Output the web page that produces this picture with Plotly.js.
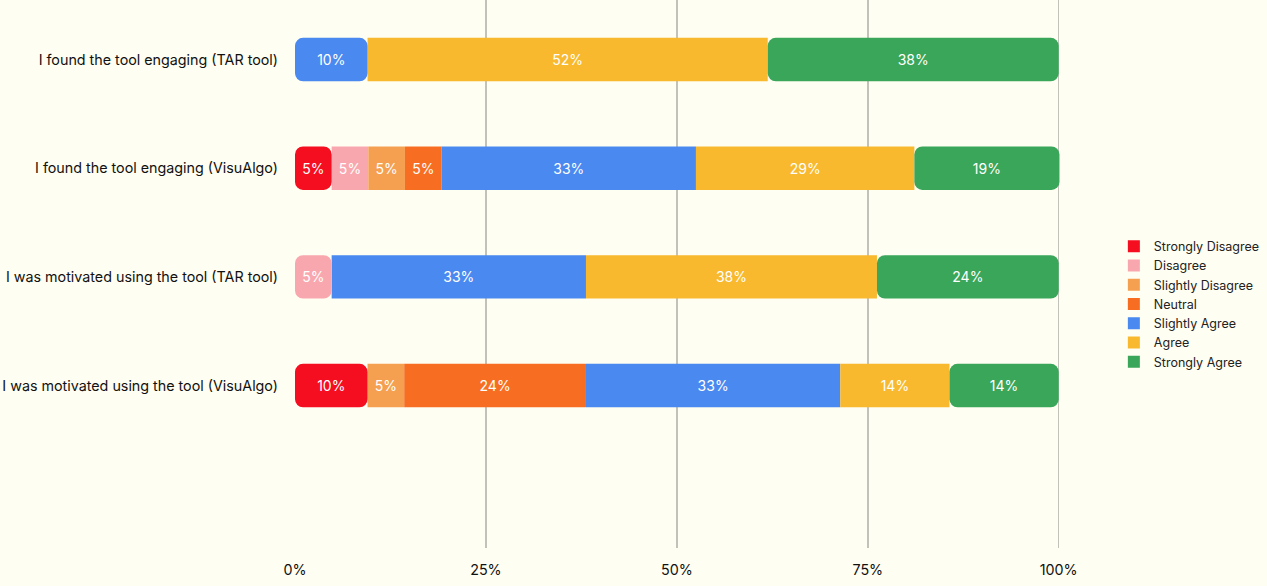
<!DOCTYPE html>
<html>
<head>
<meta charset="utf-8">
<script src="https://cdn.plot.ly/plotly-3.0.1.min.js"></script>
<style>
  html, body { margin: 0; padding: 0; background: #fffef2; }
  #chart { width: 1267px; height: 586px; }
</style>
</head>
<body>
<div id="chart"></div>
<script>
// ---- data (percent of respondents) ----
const questions = [
  "I found the tool engaging (TAR tool)",
  "I found the tool engaging (VisuAlgo)",
  "I was motivated using the tool (TAR tool)",
  "I was motivated using the tool (VisuAlgo)"
];
const levels = ["Strongly Disagree", "Disagree", "Slightly Disagree", "Neutral", "Slightly Agree", "Agree", "Strongly Agree"];
const stronglyDisagree = [0, 4.8, 0, 9.5];
const disagree         = [0, 4.8, 4.8, 0];
const slightlyDisagree = [0, 4.8, 0, 4.8];
const neutral          = [0, 4.8, 0, 23.8];
const slightlyAgree    = [9.5, 33.3, 33.3, 33.3];
const agree            = [52.4, 28.6, 38.1, 14.3];
const stronglyAgree    = [38.1, 19.0, 23.8, 14.3];
const xTickVals = [0, 25, 50, 75, 100];
const xTickText = ["0%", "25%", "50%", "75%", "100%"];

// ---- styles ----
const colors = ["#f50d20", "#f9a7ae", "#f5a050", "#f76e22", "#4a89ef", "#f8b92e", "#39a659"];
const FONT = "Inter, 'Noto Sans', sans-serif";
const BG = "#fffef2";
const BAR_W = 0.4;
const RADIUS = 8;

const series = [stronglyDisagree, disagree, slightlyDisagree, neutral, slightlyAgree, agree, stronglyAgree];
const label = v => Math.round(v) + "%";

// find first / last non-zero segment per row
const firstIdx = questions.map((q, i) => series.findIndex(s => s[i] > 0));
const lastIdx = questions.map((q, i) => {
  let L = -1; series.forEach((s, k) => { if (s[i] > 0) L = k; }); return L;
});
// cumulative starts
const starts = series.map(() => questions.map(() => 0));
questions.forEach((q, i) => {
  let acc = 0;
  series.forEach((s, k) => { starts[k][i] = acc; acc += s[i]; });
});

const textFont = { color: "#ffffff", size: 14, family: FONT };
const traces = [];
// middle segments (legend traces)
series.forEach((s, k) => {
  const xs = [], bs = [], ts = [];
  questions.forEach((q, i) => {
    const mid = s[i] > 0 && k !== firstIdx[i] && k !== lastIdx[i];
    xs.push(mid ? s[i] : null);
    bs.push(starts[k][i]);
    ts.push(mid ? label(s[i]) : "");
  });
  traces.push({
    type: "bar", orientation: "h", name: levels[k],
    y: questions, x: xs, base: bs, text: ts,
    width: BAR_W,
    marker: { color: colors[k], line: { width: 0 } },
    textposition: "inside", insidetextanchor: "middle", textangle: 0,
    textfont: textFont, hoverinfo: "skip"
  });
});
// left caps (drawn reversed so rounding is on the left end)
{
  const xs = [], bs = [], ts = [], cs = [];
  questions.forEach((q, i) => {
    const k = firstIdx[i], v = series[k][i];
    xs.push(-v); bs.push(starts[k][i] + v); ts.push(label(v)); cs.push(colors[k]);
  });
  traces.push({
    type: "bar", orientation: "h", showlegend: false,
    y: questions, x: xs, base: bs, text: ts, width: BAR_W,
    marker: { color: cs, cornerradius: RADIUS, line: { width: 0 } },
    textposition: "inside", insidetextanchor: "middle", textangle: 0,
    textfont: textFont, hoverinfo: "skip"
  });
}
// right caps
{
  const xs = [], bs = [], ts = [], cs = [];
  questions.forEach((q, i) => {
    const k = lastIdx[i], v = series[k][i];
    xs.push(v); bs.push(starts[k][i]); ts.push(label(v)); cs.push(colors[k]);
  });
  traces.push({
    type: "bar", orientation: "h", showlegend: false,
    y: questions, x: xs, base: bs, text: ts, width: BAR_W,
    marker: { color: cs, cornerradius: RADIUS, line: { width: 0 } },
    textposition: "inside", insidetextanchor: "middle", textangle: 0,
    textfont: textFont, hoverinfo: "skip"
  });
}

const layout = {
  width: 1267, height: 586,
  paper_bgcolor: BG, plot_bgcolor: BG,
  margin: { l: 295, r: 206, t: 0, b: 38, pad: 0 },
  barmode: "overlay",
  font: { family: FONT, color: "#111111", size: 14 },
  xaxis: {
    range: [0, 100.3], tickvals: xTickVals, ticktext: xTickText,
    showgrid: true, gridcolor: "#c2c2bb", gridwidth: 1.5,
    zeroline: true, zerolinecolor: BG, zerolinewidth: 2,
    showline: false, ticks: "", ticklabelstandoff: 12,
    tickfont: { size: 14.3, family: FONT, color: "#111111" }, fixedrange: true
  },
  yaxis: {
    type: "category", range: [4.495, -0.548],
    showgrid: false, zeroline: false, showline: false, ticks: "",
    ticklabelstandoff: 16,
    tickfont: { size: 14.3, family: FONT, color: "#111111" }, fixedrange: true
  },
  legend: {
    x: 1.069, xanchor: "left", y: 0.445, yanchor: "middle",
    font: { size: 12.5, family: FONT, color: "#222222" },
    bgcolor: "rgba(0,0,0,0)", traceorder: "normal", itemwidth: 30
  },
  showlegend: true
};

Plotly.newPlot("chart", traces, layout, { displayModeBar: false, staticPlot: true });
</script>
</body>
</html>
